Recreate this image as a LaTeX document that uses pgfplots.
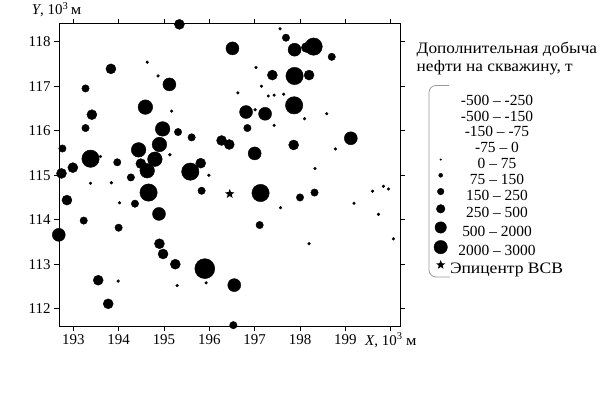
\documentclass[border=0pt]{standalone}
\usepackage{fontspec}
\setmainfont{Liberation Serif}
\usepackage{graphicx}
\usepackage{pgfplots}
\pgfplotsset{compat=1.18}
\newcommand{\cyr}[1]{\scalebox{1.1}[1]{#1}}
\pgfdeclareplotmark{fstar}{%
  \pgfpathmoveto{\pgfpointpolar{90}{\pgfplotmarksize}}%
  \pgfpathlineto{\pgfpointpolar{126}{0.42\pgfplotmarksize}}%
  \pgfpathlineto{\pgfpointpolar{162}{\pgfplotmarksize}}%
  \pgfpathlineto{\pgfpointpolar{198}{0.42\pgfplotmarksize}}%
  \pgfpathlineto{\pgfpointpolar{234}{\pgfplotmarksize}}%
  \pgfpathlineto{\pgfpointpolar{270}{0.42\pgfplotmarksize}}%
  \pgfpathlineto{\pgfpointpolar{306}{\pgfplotmarksize}}%
  \pgfpathlineto{\pgfpointpolar{342}{0.42\pgfplotmarksize}}%
  \pgfpathlineto{\pgfpointpolar{18}{\pgfplotmarksize}}%
  \pgfpathlineto{\pgfpointpolar{54}{0.42\pgfplotmarksize}}%
  \pgfpathclose\pgfusepathqfill}

\pgfplotstableread{
x y
194.63 117.54
194.87 117.23
195.17 116.44
197.56 118.29
197.03 117.42
197.15 117.00
196.63 116.85
197.30 116.78
197.43 116.80
197.64 116.82
197.01 116.47
198.10 116.27
198.59 116.38
197.43 116.12
198.78 115.59
198.33 115.15
197.57 114.27
199.60 114.64
199.84 114.75
199.95 114.69
199.19 114.37
199.73 114.12
195.99 115.00
198.20 113.46
200.06 113.57
193.60 115.42
195.13 115.46
193.38 114.82
193.84 114.83
194.02 114.38
193.99 112.62
195.29 112.52
195.93 112.58
}\tabA
\pgfplotstableread{
x y
193.27 116.95
197.69 118.09
198.70 117.66
196.84 116.06
198.00 114.50
198.32 114.61
197.11 113.88
193.27 116.06
195.31 115.97
195.61 115.85
192.76 115.60
193.97 115.29
194.27 114.95
195.83 114.65
194.36 114.36
193.23 113.98
194.00 113.82
196.53 111.63
}\tabB
\pgfplotstableread{
x y
195.34 118.39
193.83 117.39
193.41 116.36
197.39 117.25
196.27 115.78
196.44 115.69
197.86 115.68
195.81 115.27
192.99 115.17
192.74 115.04
192.86 114.44
194.90 113.46
194.98 113.23
195.25 113.00
193.55 112.64
193.77 112.11
194.49 115.26
198.20 117.25
198.14 117.87
}\tabC
\pgfplotstableread{
x y
196.51 117.85
195.12 117.04
197.88 117.82
196.81 116.42
197.23 116.38
197.00 115.49
199.12 115.83
194.89 114.13
196.55 112.53
192.68 113.66
}\tabD
\pgfplotstableread{
x y
194.59 116.53
194.97 116.04
194.90 115.69
194.44 115.57
194.80 115.36
194.63 115.10
}\tabE
\pgfplotstableread{
x y
198.30 117.89
197.88 117.23
197.87 116.57
193.38 115.37
195.58 115.08
194.66 114.61
197.13 114.60
}\tabF
\pgfplotstableread{
x y
195.90 112.90
}\tabG
\pgfplotstableread{
x y
196.45 114.58
}\tabStar

\begin{document}
\begin{tikzpicture}[x=1bp,y=1bp]
\useasboundingbox (0,0) rectangle (600,393);
\begin{axis}[
  at={(59bp,67bp)}, anchor=south west,
  scale only axis, width=341bp, height=302bp,
  xmin=192.685, xmax=200.205, ymin=111.611, ymax=118.398,
  clip=false,
  axis line style={line width=1bp},
  tick align=outside, major tick length=5bp,
  tick style={black, line width=0.8bp},
  xtick={193,...,200}, xticklabels={193,194,195,196,197,198,199,{}},
  ytick={112,...,118},
  font=\fontsize{15}{18}\selectfont,
  /pgf/number format/assume math mode=true,
  legend image code/.code={\draw[#1] plot coordinates {(0bp,4.5bp)};},
  legend cell align=center,
  legend style={draw=none, fill=none, at={(axis description cs:1.0997,0.768)},
    anchor=north west, inner sep=0pt, outer sep=0pt,
    row sep=1.2bp, column sep=2.6bp,
    nodes={inner sep=0pt, text height=11.5bp, text depth=3bp},
    font=\fontsize{15.5}{18}\selectfont},
]
\addlegendimage{empty legend}
\addlegendimage{empty legend}
\addlegendimage{empty legend}
\addlegendimage{empty legend}
\addlegendimage{only marks, mark=*, mark size=0.8bp, mark options={fill=black, draw=none}}
\addlegendimage{only marks, mark=*, mark size=2bp, mark options={fill=black, draw=none}}
\addlegendimage{only marks, mark=*, mark size=3.3bp, mark options={fill=black, draw=none}}
\addlegendimage{only marks, mark=*, mark size=4.3bp, mark options={fill=black, draw=none}}
\addlegendimage{only marks, mark=*, mark size=5.7bp, mark options={fill=black, draw=none}}
\addlegendimage{only marks, mark=*, mark size=6.7bp, mark options={fill=black, draw=none}}
\addlegendimage{only marks, mark=fstar, mark size=4.8bp, mark options={fill=black, draw=none}}
\legend{-500 – -250, -500 – -150, -150 – -75, -75 – 0, 0 – 75, 75 – 150, 150 – 250, 250 – 500, 500 – 2000, 2000 – 3000, \makebox[94bp][l]{\fontsize{16}{18}\selectfont\cyr{Эпицентр ВСВ}}}
\addplot[forget plot, only marks, mark=*, mark size=10bp, mark options={fill=black, draw=none}] table[x=x,y=y] {\tabG};
\addplot[forget plot, only marks, mark=*, mark size=8.7bp, mark options={fill=black, draw=none}] table[x=x,y=y] {\tabF};
\addplot[forget plot, only marks, mark=*, mark size=7.3bp, mark options={fill=black, draw=none}] table[x=x,y=y] {\tabE};
\addplot[forget plot, only marks, mark=*, mark size=6.5bp, mark options={fill=black, draw=none}] table[x=x,y=y] {\tabD};
\addplot[forget plot, only marks, mark=*, mark size=5bp, mark options={fill=black, draw=none}] table[x=x,y=y] {\tabC};
\addplot[forget plot, only marks, mark=*, mark size=3.7bp, mark options={fill=black, draw=none}] table[x=x,y=y] {\tabB};
\addplot[forget plot, only marks, mark=*, mark size=1.4bp, mark options={fill=black, draw=none}] table[x=x,y=y] {\tabA};
\addplot[forget plot, only marks, mark=fstar, mark size=5bp, mark options={fill=black, draw=none}] table[x=x,y=y] {\tabStar};
\end{axis}
\node[anchor=base west, inner sep=0pt, font=\fontsize{15}{18}\selectfont] at (31.7,378.5) {\textit{Y}, 10\textsuperscript{3}\,\cyr{м}};
\node[anchor=base west, inner sep=0pt, font=\fontsize{15}{18}\selectfont] at (365,48) {\textit{X}, 10\textsuperscript{3} \cyr{м}};
\node[anchor=base west, inner sep=0pt, font=\fontsize{16}{18}\selectfont] at (416.5,339.7) {\scalebox{1.085}[1]{Дополнительная добыча}};
\node[anchor=base west, inner sep=0pt, font=\fontsize{16}{18}\selectfont] at (416.5,321.3) {\scalebox{1.085}[1]{нефти на скважину, т}};
\draw[gray!80, line width=0.8bp, rounded corners=7bp] (449,307.5) -- (429,307.5) -- (429,116) -- (450,116);
\end{tikzpicture}
\end{document}
